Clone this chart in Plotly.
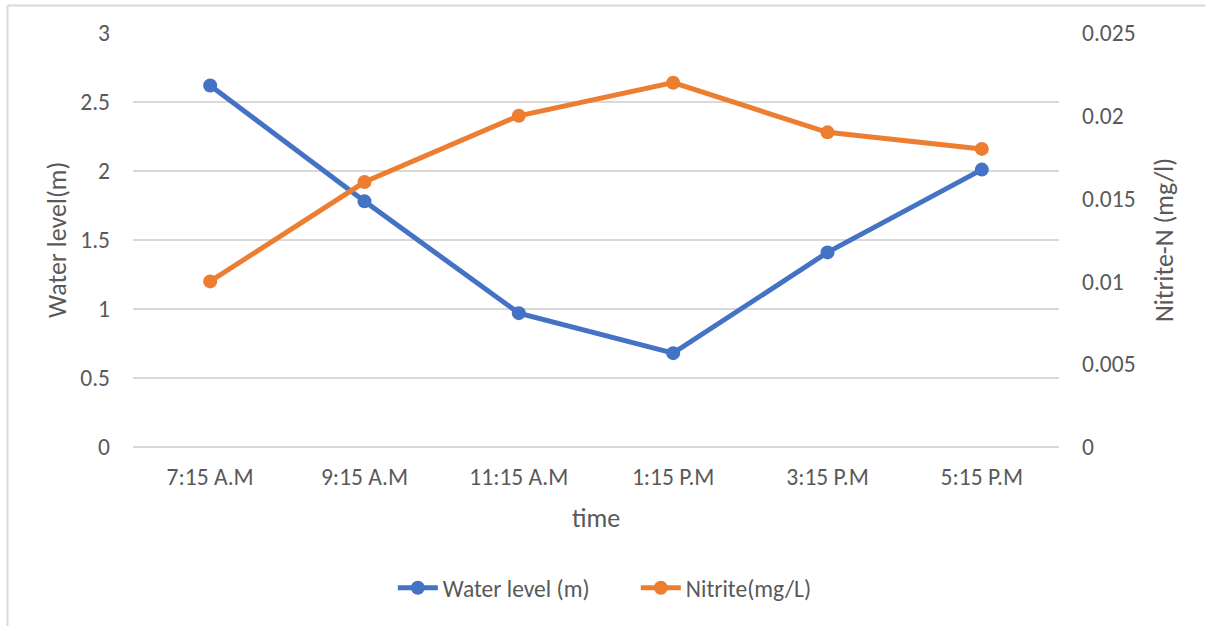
import plotly.graph_objects as go

# Sampling times and measured series
times = ["7:15 A.M", "9:15 A.M", "11:15 A.M", "1:15 P.M", "3:15 P.M", "5:15 P.M"]
water_level = [2.62, 1.78, 0.97, 0.68, 1.41, 2.01]
nitrite = [0.010, 0.016, 0.020, 0.022, 0.019, 0.018]

left_ticks = [0, 0.5, 1, 1.5, 2, 2.5, 3]
right_ticks = [0, 0.005, 0.01, 0.015, 0.02, 0.025]

FONT = "Carlito, Calibri, Lato, sans-serif"
TEXT = "#595959"
GRID = "#d9d9d9"
BLUE = "#4472C4"
ORANGE = "#ED7D31"
TICK_SIZE = 23.5
TITLE_SIZE = 26

fig = go.Figure()
fig.add_trace(go.Scatter(
    x=times, y=water_level, name="Water level (m)", mode="lines+markers",
    line=dict(color=BLUE, width=5), marker=dict(size=14, color=BLUE),
    yaxis="y",
))
fig.add_trace(go.Scatter(
    x=times, y=nitrite, name="Nitrite(mg/L)", mode="lines+markers",
    line=dict(color=ORANGE, width=5), marker=dict(size=14, color=ORANGE),
    yaxis="y2",
))

fig.update_layout(
    width=1205, height=626,
    margin=dict(l=133, r=146, t=33, b=179),
    paper_bgcolor="white", plot_bgcolor="white",
    font=dict(family=FONT, size=TICK_SIZE, color=TEXT),
    showlegend=True,
    legend=dict(
        orientation="h", x=0.543, xanchor="center", y=-0.3406, yanchor="middle",
        font=dict(size=TICK_SIZE, color=TEXT), itemwidth=40, tracegroupgap=0,
        entrywidth=188,
    ),
    xaxis=dict(
        type="category", range=[-0.5, 5.5], showgrid=False, showline=False,
        ticks="", ticklabelstandoff=13, tickfont=dict(size=TICK_SIZE, color=TEXT),
    ),
    yaxis=dict(
        range=[0, 3], tickvals=left_ticks, showgrid=True, gridcolor=GRID, gridwidth=1.5,
        zeroline=True, zerolinecolor=GRID, zerolinewidth=1.5, showline=False,
        ticks="", ticklabelstandoff=22, tickfont=dict(size=TICK_SIZE, color=TEXT),
    ),
    yaxis2=dict(
        range=[0, 0.025], tickvals=right_ticks, overlaying="y", side="right",
        showgrid=False, zeroline=False, showline=False, ticks="",
        ticklabelstandoff=22, tickfont=dict(size=TICK_SIZE, color=TEXT),
    ),
    annotations=[
        dict(text="Water level(m)", x=-0.0821, y=0.5, xref="paper", yref="paper",
             textangle=-90, showarrow=False, xanchor="center", yanchor="middle",
             font=dict(size=TITLE_SIZE, color=TEXT)),
        dict(text="Nitrite-N (mg/l)", x=1.1134, y=0.5, xref="paper", yref="paper",
             textangle=-90, showarrow=False, xanchor="center", yanchor="middle",
             font=dict(size=TITLE_SIZE, color=TEXT)),
        dict(text="time", x=0.5, y=-0.1715, xref="paper", yref="paper",
             showarrow=False, xanchor="center", yanchor="middle",
             font=dict(size=TITLE_SIZE, color=TEXT)),
    ],
    shapes=[
        # chart frame (top and left edges)
        dict(type="line", xref="paper", yref="paper", x0=-0.1355, x1=1.2,
             y0=1.0664, y1=1.0664, line=dict(color=GRID, width=2)),
        dict(type="line", xref="paper", yref="paper", x0=-0.1355, x1=-0.1355,
             y0=1.0664, y1=-0.5, line=dict(color=GRID, width=2)),
    ],
)

fig.write_html("out.html")
